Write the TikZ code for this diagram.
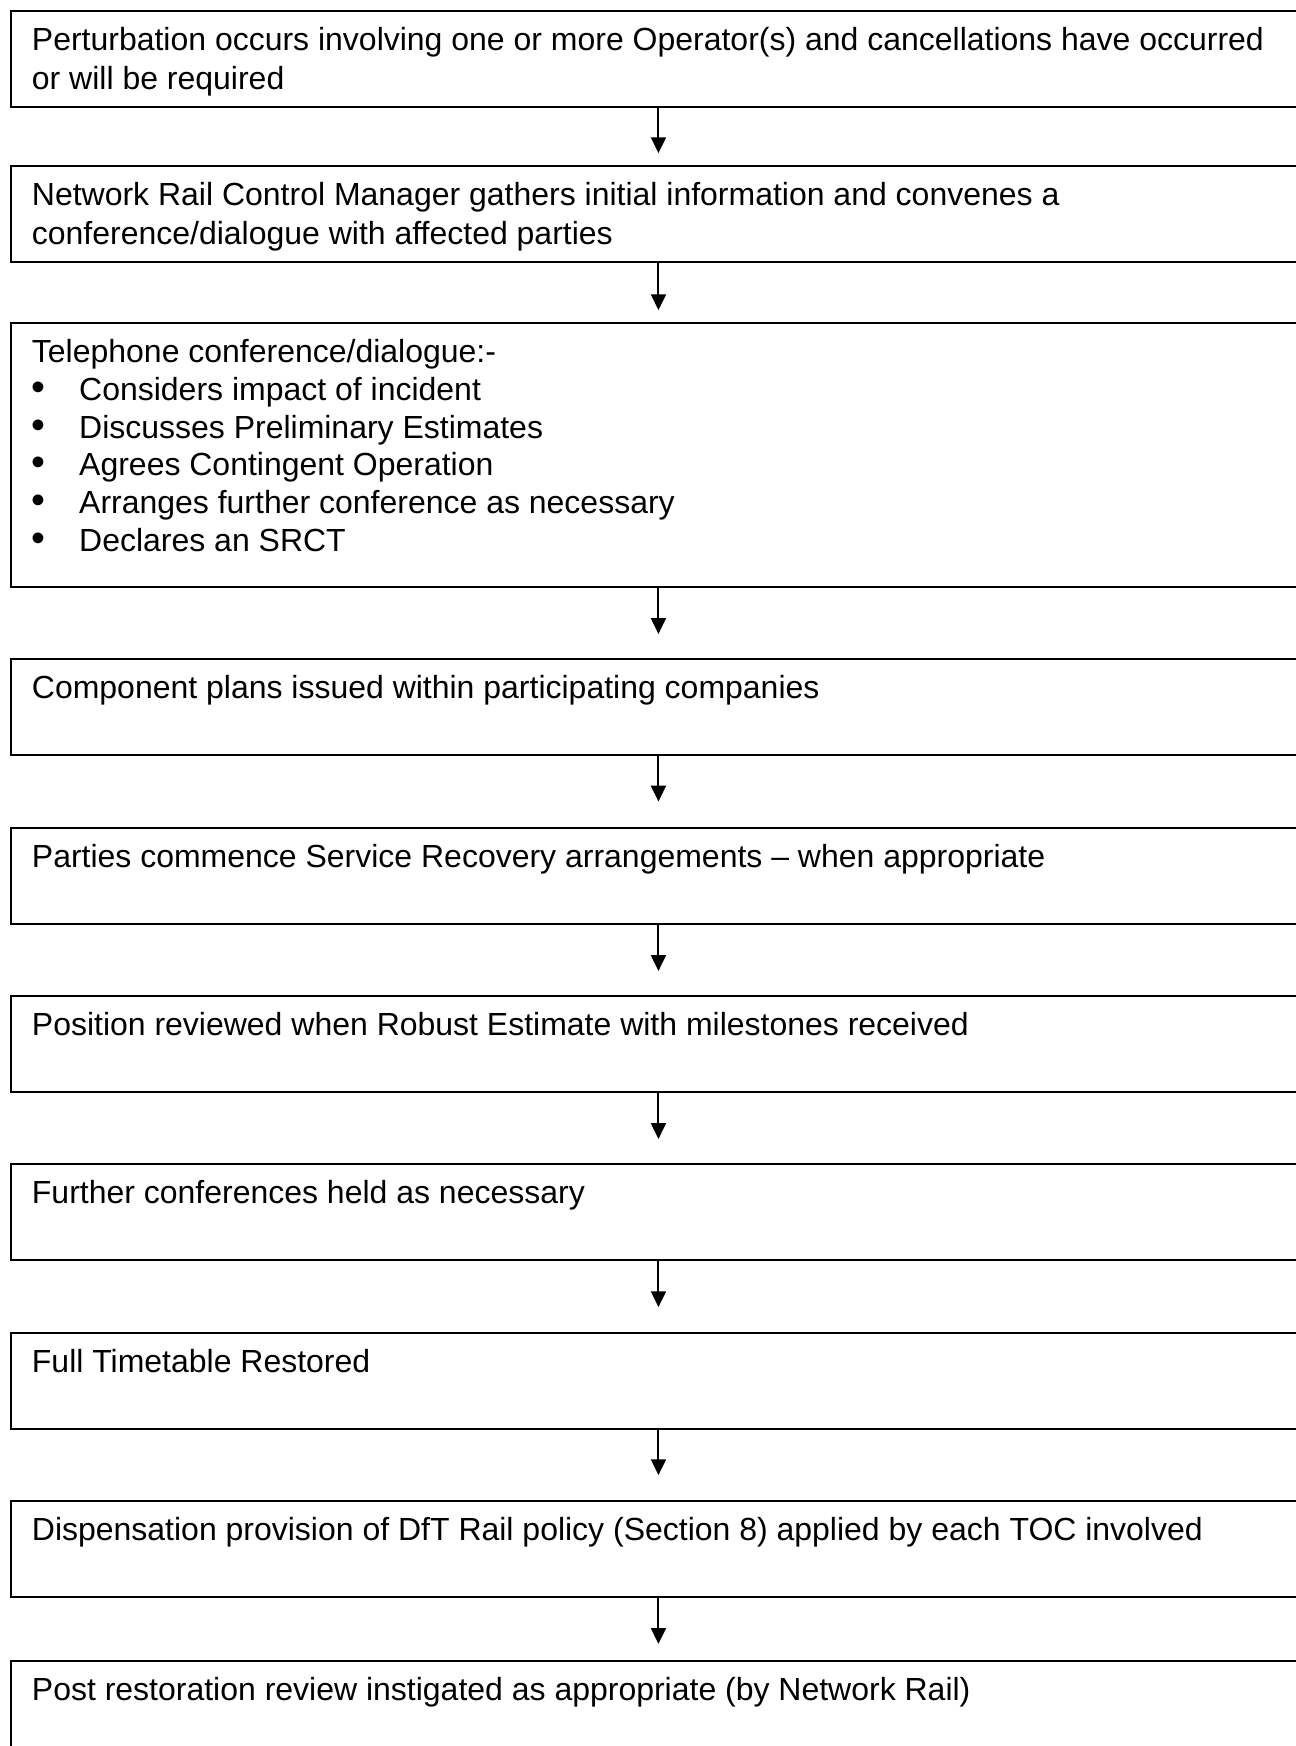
\documentclass[tikz,border=0pt]{standalone}
\usepackage{fontspec}
\setmainfont{Liberation Sans}
\usetikzlibrary{arrows.meta}

% text of a box, kept at the top of a fixed height
\newcommand{\boxtext}[2]{\parbox[t][#1][t]{442.7pt}{\raggedright\strut #2}}
\newcommand{\bitem}[1]{\makebox[16.7pt][l]{\fontsize{14}{13.3}\selectfont\textbullet}#1}

\begin{document}
\begin{tikzpicture}[x=0.3533pt, y=-0.3533pt]

\tikzstyle{bx} = [draw, line width=0.7pt, anchor=north west, inner xsep=7.4pt, inner ysep=4.4pt, font=\fontsize{11.3}{13.8}\selectfont]
\tikzstyle{arr} = [line width=0.7pt, -{Triangle[width=5.3pt,length=5.6pt]}]

\useasboundingbox (0,0) rectangle (1295,1746);

\node[bx] (b1) at (10,10) {\boxtext{25.1pt}{Perturbation occurs involving one or more Operator(s) and cancellations have occurred\\or will be required}};
\node[bx] (b2) at (10,165) {\boxtext{25.1pt}{Network Rail Control Manager gathers initial information and convenes a\\conference/dialogue with affected parties}};
\node[bx] (b3) at (10,322) {\boxtext{84.5pt}{\fontsize{11.3}{13.3}\selectfont Telephone conference/dialogue:-\\
  \bitem{Considers impact of incident}\\
  \bitem{Discusses Preliminary Estimates}\\
  \bitem{Agrees Contingent Operation}\\
  \bitem{Arranges further conference as necessary}\\
  \bitem{Declares an SRCT}}};
\node[bx] (b4) at (10,658) {\boxtext{25.1pt}{Component plans issued within participating companies}};
\node[bx] (b5) at (10,827) {\boxtext{25.1pt}{Parties commence Service Recovery arrangements -- when appropriate}};
\node[bx] (b6) at (10,995) {\boxtext{25.1pt}{Position reviewed when Robust Estimate with milestones received}};
\node[bx] (b7) at (10,1163) {\boxtext{25.1pt}{Further conferences held as necessary}};
\node[bx] (b8) at (10,1332) {\boxtext{25.1pt}{Full Timetable Restored}};
\node[bx] (b9) at (10,1500) {\boxtext{25.1pt}{Dispensation provision of DfT Rail policy (Section 8) applied by each TOC involved}};
\node[bx] (b10) at (10,1660) {\boxtext{25.1pt}{Post restoration review instigated as appropriate (by Network Rail)}};

% flow, each arrow stops short of the next box
\foreach \a/\b/\g in {b1/b2/4.2pt, b2/b3/4.2pt, b3/b4/8.5pt, b4/b5/9pt, b5/b6/8.5pt,
                      b6/b7/8.5pt, b7/b8/8.8pt, b8/b9/8.8pt, b9/b10/5.7pt}
  \draw[arr, shorten >=\g] (\a.south) -- (\b.north);

\end{tikzpicture}
\end{document}
